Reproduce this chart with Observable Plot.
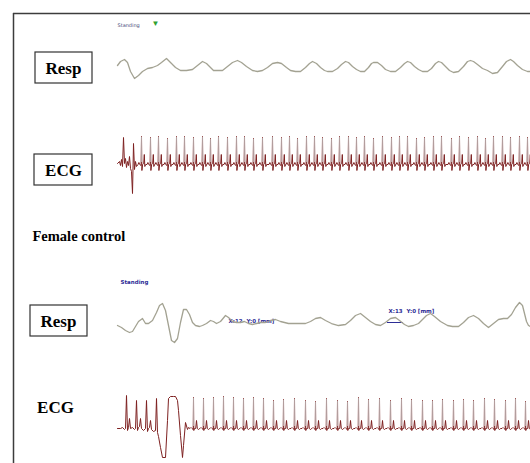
<!DOCTYPE html>
<html><head><meta charset="utf-8">
<script src="https://cdn.jsdelivr.net/npm/d3@7"></script>
<script src="https://cdn.jsdelivr.net/npm/@observablehq/plot@0.6"></script>
<style>body{margin:0;background:#fff}#chart{width:530px;height:463px}</style>
</head><body><div id="chart"></div><script>
// ---- Data (t = time along recording, amp = deflection from baseline) ----
const respTopT   = [0,3,7,10,13,17,21,25,30,35,40,44,49,53,58,63,69,75,80,85,89,93,96,101,105,110,115,120,124,129,135,140,145,150,155,160,164,169,173,178,183,188,192,195,199,203,207,210,215,220,224,228,231,235,239,243,247,251,254,256,260,264,268,273,278,283,287,290,293,297,301,305,310,314,318,321,324,328,332,336,341,346,350,353,356,360,365,370,375,380,385,389,393,396,400,405,410,413];
const respTopAmp = [1,5,7,4,-5,-12,-9,-5,-2,-1,1,4,8,4,-1,-4,-4,-3,1,5,3,-1,-4,-4,-4,0,4,6,4,0,-4,-5,-4,-1,3,4,3,-1,-4,-5,-5,-1,3,5,3,-1,-4,-5,-5,-2,2,5,4,0,-3,-5,-5,-1,3,4,4,1,-3,-5,-5,-1,3,5,4,0,-3,-5,-5,-2,3,5,4,0,-4,-6,-5,0,5,6,5,2,-2,-4,-7,-6,0,5,7,5,1,-3,-5,-5];

const respBotT   = [0,4,8,12,15,18,21,25,28,31,35,39,42,45,48,51,54,57,60,63,66,69,72,75,78,82,85,89,93,96,99,103,108,111,115,119,123,127,131,135,139,143,148,153,158,163,171,179,188,193,198,203,208,214,221,228,233,238,243,248,253,258,263,268,273,278,282,287,291,296,301,305,309,313,317,323,330,335,341,346,351,356,361,366,371,376,381,386,390,394,398,402,405,407,409,411,413];
const respBotAmp = [-3,-5,-8,-10,-9,-4,1,4,-1,-1,2,10,17,19,12,-3,-18,-20,-16,0,13,13,8,0,-3,-4,-3,-1,2,1,-1,1,7,5,1,0,0,1,-1,-2,-1,0,0,2,3,1,-1,-1,-1,1,4,5,2,-1,-3,-2,2,7,9,5,1,-2,-3,0,4,5,2,-2,-4,-3,-1,3,7,9,6,1,-3,-4,-4,0,5,7,4,-1,-5,-1,3,4,4,8,15,20,17,9,1,-3,-4];

// ECG, top (male): irregular start, then regular beats
const ecgTopInitT   = [0,2,3,4,5,6,7,8,9,10,11,12,13,14,15,16,17,18,19];
const ecgTopInitAmp = [1,3,-1,5,-2,27,1,6,-3,3,-1,8,-4,-7,-29,21,-5,3,-2];
const ecgTopBeats   = [24,33,41,50,59,67,76,85,93,101,110,119,127,136,145,155,164,172,180,189,197,205,214,222,231,239,247,256,265,274,282,290,299,307,316,324,334,342,351,360,368,376,385,393,402,410];
const ecgTopR       = [28,27,28,26,28,28,27,28,26,28,27,28,28,26,27,28,27,28,26,28,28,27,26,28,28,27,28,26,28,27,28,28,26,27,28,28,26,28,27,28,26,28,28,27,28,27];
const ecgTopTplT    = [-3.5,-2.6,-1.8,-0.4,0,0.4,1.1,2.2,2.8,3.3,4.2];
const ecgTopTplAmp  = [0,2,0,-1,"R",-6,0,1,10,-2,0];

// ECG, bottom (female control): movement artefact, then regular beats
const ecgBotInitT   = [0,3,5,7,8,9,10,11,12,13,15,17,18,19,20,21,22,23,24,26,28,29,30,31,32,33,34,36,38,39,40,41,43,45,48,50,51,53,56,58,60,61,63,65,66,68,70,71];
const ecgBotInitAmp = [0,0,1,-1,0,33,-2,1,10,0,1,-1,0,28,-2,1,2,10,0,-2,0,28,-3,0,1,8,-1,-3,-2,30,-4,-8,-19,-29,-29,8,30,32,32,32,28,18,-7,-29,-17,6,-1,1];
const ecgBotBeats   = [76,86,96,106,116,126,136,146,156,166,177,188,198,209,220,230,241,251,262,273,284,294,305,315,325,336,346,356,367,377,388,398,408];
const ecgBotR       = [31,30,31,32,31,30,31,30,28,29,30,28,27,30,28,27,31,29,30,28,30,29,28,28,29,28,29,28,30,29,28,30,27];
const ecgBotTplT    = [-3.5,-2.5,-1.5,-0.3,0,0.3,1.0,2.2,3.0,3.8,5,6.2];
const ecgBotTplAmp  = [0,1,0,-1,"R",-2,0,0,8,0,-1,0];

// ---- Layout ----
const W = 530, H = 463, X0 = 117;
const base = {respTop: 66, ecgTop: 164, respBot: 322, ecgBot: 428};

function trace(ts, amps, b) { return ts.map((t, i) => ({x: X0 + t, y: b - amps[i]})); }
function ecg(initT, initA, beats, rs, tplT, tplA, b) {
  const pts = trace(initT, initA, b);
  beats.forEach((r, i) => tplT.forEach((d, j) => {
    const a = tplA[j] === "R" ? rs[i] : tplA[j];
    pts.push({x: X0 + r + d, y: b - a});
  }));
  return pts;
}
function spikes(beats, rs, b) { return beats.map((r, i) => ({x: X0 + r, y1: b - 2, y2: b - rs[i] + 1})); }

const respTop = trace(respTopT, respTopAmp, base.respTop);
const respBot = trace(respBotT, respBotAmp, base.respBot);
const ecgTop = ecg(ecgTopInitT, ecgTopInitAmp, ecgTopBeats, ecgTopR, ecgTopTplT, ecgTopTplAmp, base.ecgTop);
const ecgBot = ecg(ecgBotInitT, ecgBotInitAmp, ecgBotBeats, ecgBotR, ecgBotTplT, ecgBotTplAmp, base.ecgBot);

const boxes = [
  {x1: 35, x2: 92, y1: 52, y2: 83},
  {x1: 34, x2: 92, y1: 154, y2: 185},
  {x1: 30, x2: 87, y1: 305, y2: 336}
];
const bigLabels = [
  {x: 63, y: 68, text: "Resp"},
  {x: 63, y: 170, text: "ECG"},
  {x: 58, y: 321, text: "Resp"},
  {x: 55, y: 407, text: "ECG"}
];
const serif = "'Liberation Serif','DejaVu Serif',serif";
const traceColor = "#a3a292", ecgColor = "#7e2121", spikeColor = "#b8acac", blue = "#2d2d96";

const chart = Plot.plot({
  width: W, height: H, margin: 0,
  x: {domain: [0, W], range: [0, W], axis: null},
  y: {domain: [0, H], range: [0, H], axis: null},
  style: {background: "#fff"},
  marks: [
    Plot.ruleY([13], {x1: 13, x2: W, stroke: "#3c3c3c", strokeWidth: 1.5}),
    Plot.ruleX([13], {y1: 13, y2: H, stroke: "#3c3c3c", strokeWidth: 1.5}),
    Plot.rect(boxes, {x1: "x1", x2: "x2", y1: "y1", y2: "y2", fill: "none", stroke: "#333", strokeWidth: 1.2}),
    Plot.text(bigLabels, {x: "x", y: "y", text: "text", fontFamily: serif, fontWeight: "bold", fontSize: 17, fill: "#000", textAnchor: "middle", lineAnchor: "middle"}),
    Plot.text(["Female control"], {x: 32, y: 236, text: d => d, fontFamily: serif, fontWeight: "bold", fontSize: 14.5, fill: "#000", textAnchor: "start", lineAnchor: "middle"}),
    Plot.text(["Standing"], {x: 117, y: 25, text: d => d, fontFamily: "'DejaVu Sans',sans-serif", fontSize: 5, fill: "#4a4a78", textAnchor: "start", lineAnchor: "middle"}),
    Plot.text(["▼"], {x: 155, y: 23, text: d => d, fontSize: 8, fill: "#2fa02f", textAnchor: "middle", lineAnchor: "middle"}),
    Plot.text(["Standing"], {x: 120, y: 282, text: d => d, fontFamily: "'DejaVu Sans',sans-serif", fontWeight: "bold", fontSize: 5.5, fill: blue, textAnchor: "start", lineAnchor: "middle"}),
    Plot.text(["X:12  Y:0 [mm]"], {x: 228, y: 321, text: d => d, fontFamily: "'DejaVu Sans',sans-serif", fontWeight: "bold", fontSize: 5.5, fill: blue, textAnchor: "start", lineAnchor: "middle"}),
    Plot.text(["X:13  Y:0 [mm]"], {x: 388, y: 311, text: d => d, fontFamily: "'DejaVu Sans',sans-serif", fontWeight: "bold", fontSize: 5.5, fill: blue, textAnchor: "start", lineAnchor: "middle"}),
    Plot.ruleY([322], {x1: 387, x2: 403, stroke: blue, strokeWidth: 1}),
    Plot.line(respTop, {x: "x", y: "y", stroke: traceColor, strokeWidth: 1.3}),
    Plot.line(respBot, {x: "x", y: "y", stroke: traceColor, strokeWidth: 1.3}),
    Plot.line(ecgTop, {x: "x", y: "y", stroke: ecgColor, strokeWidth: 1}),
    Plot.ruleX(spikes(ecgTopBeats, ecgTopR, base.ecgTop), {x: "x", y1: "y1", y2: "y2", stroke: spikeColor, strokeWidth: 0.9}),
    Plot.line(ecgBot, {x: "x", y: "y", stroke: ecgColor, strokeWidth: 1}),
    Plot.ruleX(spikes(ecgBotBeats, ecgBotR, base.ecgBot), {x: "x", y1: "y1", y2: "y2", stroke: spikeColor, strokeWidth: 0.9})
  ]
});
document.getElementById("chart").append(chart);
</script></body></html>
